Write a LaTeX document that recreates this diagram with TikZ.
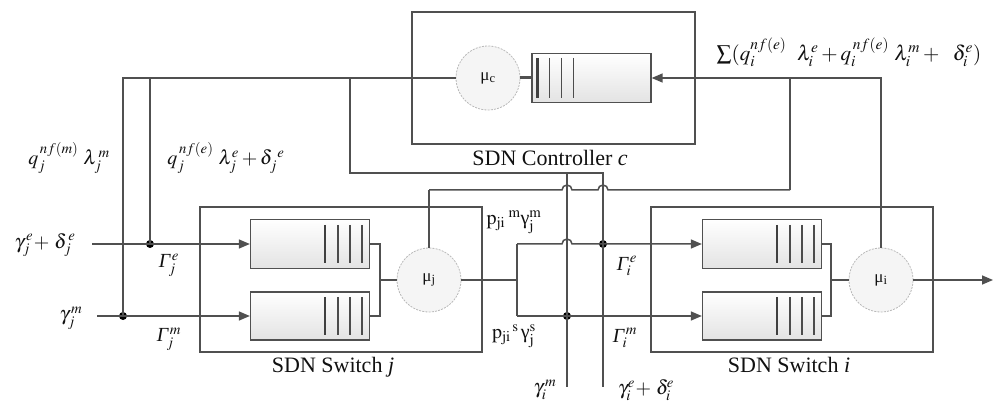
\documentclass[tikz,border=0pt]{standalone}
\usepackage{amsmath}
\usepackage{mathptmx}
\usepackage{fontspec}
\setmainfont{Liberation Serif}
\usetikzlibrary{arrows.meta}
\definecolor{lc}{HTML}{505050}
\definecolor{tc}{HTML}{111111}
\tikzset{
  ln/.style={draw=lc, line width=1.5pt},
  boxn/.style={draw=lc, line width=1.6pt, inner sep=0pt},
  arr/.style={-{Triangle[length=11pt,width=9pt]}},
  dotn/.style={circle, fill=black, inner sep=0pt, minimum size=8pt},
  srv/.style={circle, draw=gray!55, dash pattern=on 2pt off 1.2pt, line width=0.8pt, fill=gray!8, minimum size=64pt, inner sep=0pt, font=\fontsize{17}{20}\selectfont, text=tc},
  que/.style={draw=lc, line width=1.3pt, top color=white, bottom color=gray!22, minimum width=119pt, minimum height=49pt, inner sep=0pt},
  bthick/.style={draw=black!75, line width=2.6pt},
  bthin/.style={draw=black!70, line width=1.6pt},
  lbl/.style={font=\fontsize{22}{26}\selectfont, text=tc, inner sep=0pt},
  mlbl/.style={font=\fontsize{20}{24}\selectfont, text=tc, inner sep=0pt},
}
\newcommand{\rbars}[1]{%
  \draw[bthick] ([xshift=-45pt,yshift=19pt]#1.east) -- ([xshift=-45pt,yshift=-19pt]#1.east);
  \foreach \d in {32,20,8}{\draw[bthin] ([xshift=-\d pt,yshift=19pt]#1.east) -- ([xshift=-\d pt,yshift=-19pt]#1.east);}
}
\newcommand{\lbars}[1]{%
  \draw[bthick] ([xshift=6pt,yshift=20pt]#1.west) -- ([xshift=6pt,yshift=-20pt]#1.west);
  \foreach \d in {18,30,42}{\draw[bthin] ([xshift=\d pt,yshift=20pt]#1.west) -- ([xshift=\d pt,yshift=-20pt]#1.west);}
}
\begin{document}
\begin{tikzpicture}[x=1pt,y=-1pt]
\useasboundingbox (0,0) rectangle (993,403);

% boxes
\node[boxn, minimum width=283pt, minimum height=132pt] (ctl) at (553.5,78) {};
\node[boxn, minimum width=282pt, minimum height=145pt] (swj) at (341,279.5) {};
\node[boxn, minimum width=282pt, minimum height=145pt] (swi) at (792,279.5) {};

% controller
\node[srv] (muc) at (488,78) {μ\textsubscript{c}};
\node[que] (qc) at (591.5,78) {};
\lbars{qc}
\draw[draw=lc, line width=3pt] (muc.east) -- (qc.west);

% switch j
\node[que] (qj1) at (310,244) {};
\node[que, minimum height=48pt] (qj2) at (310,316) {};
\rbars{qj1}\rbars{qj2}
\node[srv] (muj) at (429,280) {μ\textsubscript{j}};

% switch i
\node[que] (qi1) at (762,244) {};
\node[que, minimum height=48pt] (qi2) at (762,316) {};
\rbars{qi1}\rbars{qi2}
\node[srv] (mui) at (881,280) {μ\textsubscript{i}};

% coordinates
\coordinate (inje) at (92,244);
\coordinate (injm) at (97,316);
\coordinate (jm) at (380,280);
\coordinate (im) at (831,280);
\coordinate (ju) at (517,244);
\coordinate (jd) at (517,316);
\coordinate (js) at (517,280);
\coordinate (vb1) at (567,387);
\coordinate (vb2) at (603,387);
\coordinate (outi) at (993,280);
\coordinate (c1) at (123,78);
\coordinate (c2) at (150,78);
\coordinate (c3) at (350,78);
\coordinate (mrg) at (790,78);
\coordinate (jt) at (429,190);
\coordinate (jr) at (790,190);

% dots
\node[dotn] (de) at (150,244) {};
\node[dotn] (dm) at (123,316) {};
\node[dotn] (die) at (603,244) {};
\node[dotn] (dim) at (567,316) {};

% controller output feedback
\draw[ln] (muc.west) -- (c1) -- (dm.center);
\draw[ln] (c2) -- (de.center);
\draw[ln] (c3) -- (350,173) -- (603,173) -- (vb2);
\draw[ln] (567,173) -- (vb1);

% inputs of switch j
\draw[ln,arr] (inje) -- (qj1.west);
\draw[ln,arr] (injm) -- (qj2.west);
\draw[ln] (qj1.east) -| (jm) |- (qj2.east);
\draw[ln] (jm) -- (muj.west);

% switch j to switch i
\draw[ln] (muj.east) -- (js);
\draw[ln] (ju) -- (jd);
\draw[ln,arr] (ju) -- (562,244) arc[start angle=180,end angle=0,radius=5pt] -- (qi1.west);
\draw[ln,arr] (jd) -- (qi2.west);
\draw[ln] (qi1.east) -| (im) |- (qi2.east);
\draw[ln] (im) -- (mui.west);
\draw[ln,arr] (mui.east) -- (outi);

% switches to controller
\draw[ln] (muj.north) -- (jt);
\draw[ln] (jt) -- (562,190) arc[start angle=180,end angle=0,radius=5pt] -- (598,190) arc[start angle=180,end angle=0,radius=5pt] -- (jr);
\draw[ln] (jr) -- (mrg);
\draw[ln,arr] (mui.north) |- (qc.east);

% labels
\node[lbl] (tctl) at (550,158) {SDN Controller \textit{c}};
\node[lbl] (tswj) at (333,367) {SDN Switch \textit{j}};
\node[lbl] (tswi) at (789,365) {SDN Switch \textit{i}};

\node[mlbl] (l1) at (69,158) {$q_j^{\,nf(m)}\ \lambda_j^{\,m}$};
\node[mlbl] (l2) at (226,158) {$q_j^{\,nf(e)}\ \lambda_j^{e}+\delta_j^{\ e}$};
\node[mlbl, font=\fontsize{21}{25}\selectfont] (l3) at (849,52) {$\sum(q_i^{nf(e)}\ \ \lambda_i^{e}+q_i^{\,nf(e)}\ \lambda_i^{m}+\ \ \delta_i^{e})$};
\node[mlbl] (l4) at (45,245) {$\gamma_j^{\,e}\!+\,\delta_j^{\,e}$};
\node[mlbl] (l5) at (71,318) {$\gamma_j^{\,m}$};
\node[mlbl] (l6) at (169,265) {$\textit{Γ}_{\!j}^{\,e}$};
\node[mlbl] (l7) at (169,339) {$\textit{Γ}_{\!j}^{\,m}$};
\node[mlbl] (l8) at (514,222) {$\mathrm{p}_{\mathrm{ji}}{}^{\;\mathrm{m}}\textup{γ}_{\mathrm{j}}^{\mathrm{m}}$};
\node[mlbl] (l9) at (514,336) {$\mathrm{p}_{\mathrm{ji}}{}^{\,\mathrm{s}}\,\textup{γ}_{\mathrm{j}}^{\mathrm{s}}$};
\node[mlbl] (l10) at (627,266) {$\textit{Γ}_{\!i}^{\,e}$};
\node[mlbl] (l11) at (625,338) {$\textit{Γ}_{\!i}^{\,m}$};
\node[mlbl] (l12) at (545,390) {$\gamma_i^{\,m}$};
\node[mlbl] (l13) at (646,390) {$\gamma_i^{e}\!+\,\delta_i^{\!e}$};
\end{tikzpicture}
\end{document}
